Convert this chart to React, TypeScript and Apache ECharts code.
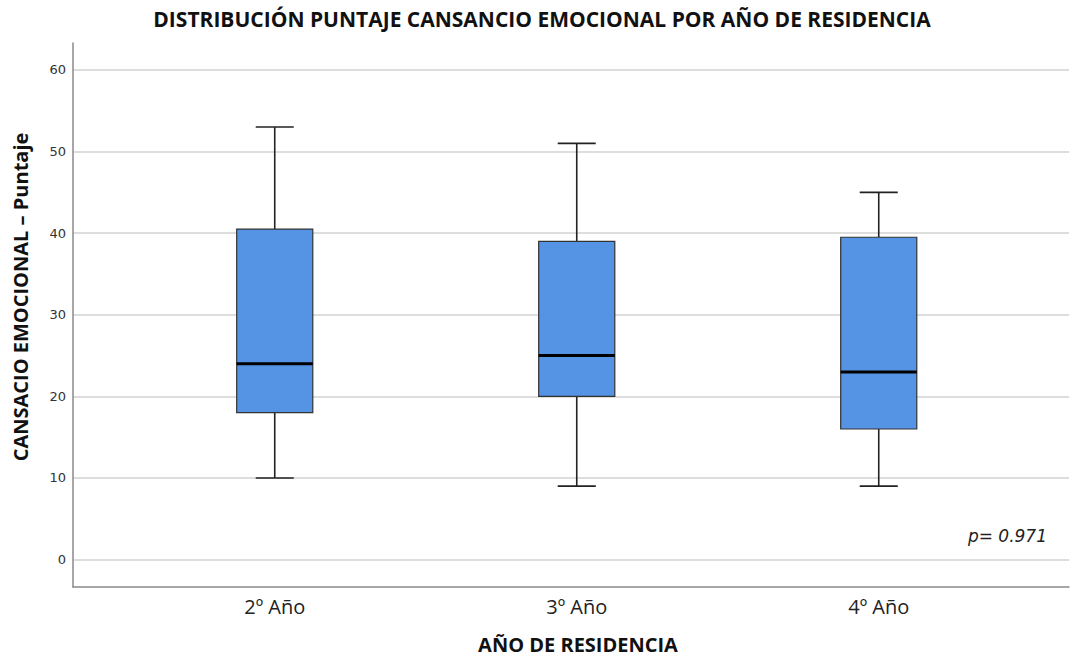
import React, { useEffect, useRef } from "react";
import * as echarts from "echarts";

const categories = ["2º Año", "3º Año", "4º Año"];
const positions = [1, 2, 3];
const minVals = [10, 9, 9];
const q1Vals = [18, 20, 16];
const medianVals = [24, 25, 23];
const q3Vals = [40.5, 39, 39.5];
const maxVals = [53, 51, 45];
const yTicks = [0, 10, 20, 30, 40, 50, 60];

const FONT = "'Open Sans', 'DejaVu Sans', sans-serif";
const FONT2 = "'DejaVu Sans', 'Open Sans', sans-serif";

export default function App() {
  const ref = useRef<HTMLDivElement>(null);
  useEffect(() => {
    if (!ref.current) return;
    const chart = echarts.init(ref.current, null, { renderer: "svg" });
    const data = positions.map((p, i) => [p, minVals[i], q1Vals[i], medianVals[i], q3Vals[i], maxVals[i]]);
    chart.setOption({
      animation: false,
      backgroundColor: "#ffffff",
      grid: { left: 73, right: 1, top: 43, bottom: 70 },
      xAxis: {
        type: "value",
        min: 0.332,
        max: 3.63,
        axisLine: { show: true, onZero: false, lineStyle: { color: "#8a8a8a", width: 1.5 } },
        axisTick: { show: false },
        splitLine: { show: false },
        axisLabel: {
          customValues: positions,
          formatter: (v: number) => categories[Math.round(v) - 1] ?? "",
          color: "#222",
          fontSize: 20,
          fontFamily: FONT,
          margin: 9,
        },
      },
      yAxis: {
        type: "value",
        min: -3.36,
        max: 63.3,
        axisLine: { show: true, onZero: false, lineStyle: { color: "#8a8a8a", width: 1.5 } },
        axisTick: { show: false, customValues: yTicks },
        axisLabel: {
          customValues: yTicks,
          color: "#333",
          fontSize: 13,
          fontFamily: FONT2,
          margin: 7,
        },
        splitLine: { show: true, lineStyle: { color: "#d2d2d2", width: 1.5 } },
      },
      series: [
        {
          type: "custom",
          data,
          encode: { x: 0, y: [1, 2, 3, 4, 5] },
          renderItem: (params: any, api: any) => {
            const x = api.value(0);
            const lo = api.value(1);
            const q1 = api.value(2);
            const med = api.value(3);
            const q3 = api.value(4);
            const hi = api.value(5);
            const pLo = api.coord([x, lo]);
            const pQ1 = api.coord([x, q1]);
            const pMed = api.coord([x, med]);
            const pQ3 = api.coord([x, q3]);
            const pHi = api.coord([x, hi]);
            const cx = pLo[0];
            const bw = api.size([0.252, 0])[0];
            const cw = bw / 2;
            const lineStyle = { stroke: "#222", lineWidth: 1.6 };
            return {
              type: "group",
              children: [
                { type: "line", shape: { x1: cx, y1: pQ3[1], x2: cx, y2: pHi[1] }, style: lineStyle },
                { type: "line", shape: { x1: cx, y1: pQ1[1], x2: cx, y2: pLo[1] }, style: lineStyle },
                { type: "line", shape: { x1: cx - cw / 2, y1: pHi[1], x2: cx + cw / 2, y2: pHi[1] }, style: lineStyle },
                { type: "line", shape: { x1: cx - cw / 2, y1: pLo[1], x2: cx + cw / 2, y2: pLo[1] }, style: lineStyle },
                {
                  type: "rect",
                  shape: { x: cx - bw / 2, y: pQ3[1], width: bw, height: pQ1[1] - pQ3[1] },
                  style: { fill: "#5594e4", stroke: "#333", lineWidth: 1.2 },
                },
                { type: "line", shape: { x1: cx - bw / 2, y1: pMed[1], x2: cx + bw / 2, y2: pMed[1] }, style: { stroke: "#000", lineWidth: 3 } },
              ],
            };
          },
        },
      ],
      graphic: [
        {
          type: "text",
          x: 542,
          y: 19,
          style: {
            text: "DISTRIBUCIÓN PUNTAJE CANSANCIO EMOCIONAL POR AÑO DE RESIDENCIA",
            font: `bold 21px ${FONT}`,
            fill: "#111",
            textAlign: "center",
            textVerticalAlign: "middle",
          },
        },
        {
          type: "text",
          x: 20,
          y: 297,
          rotation: Math.PI / 2,
          style: {
            text: "CANSACIO EMOCIONAL – Puntaje",
            font: `bold 20px ${FONT}`,
            fill: "#111",
            textAlign: "center",
            textVerticalAlign: "middle",
          },
        },
        {
          type: "text",
          x: 578,
          y: 644,
          style: {
            text: "AÑO DE RESIDENCIA",
            font: `bold 20px ${FONT}`,
            fill: "#111",
            textAlign: "center",
            textVerticalAlign: "middle",
          },
        },
        {
          type: "text",
          x: 1047,
          y: 536,
          style: {
            text: "p= 0.971",
            font: `italic 17px ${FONT2}`,
            fill: "#222",
            textAlign: "right",
            textVerticalAlign: "middle",
          },
        },
      ],
    });
    return () => chart.dispose();
  }, []);
  return <div ref={ref} style={{ position: "absolute", left: 0, top: 0, width: 1070, height: 657 }} />;
}
